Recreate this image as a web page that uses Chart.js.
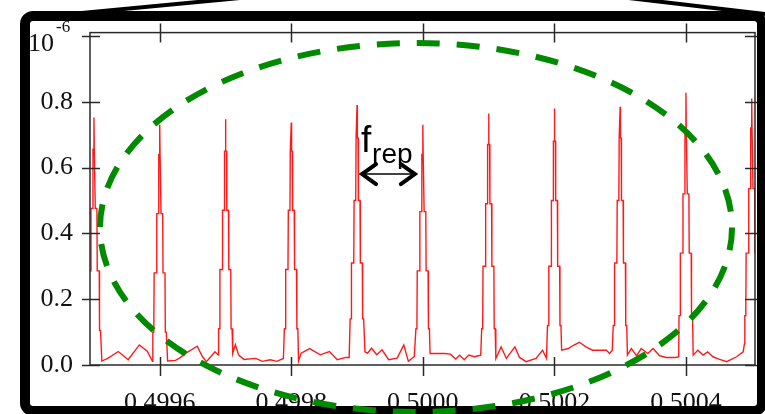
<!DOCTYPE html>
<html>
<head>
<meta charset="utf-8">
<script src="https://cdn.jsdelivr.net/npm/chart.js@4.4.1/dist/chart.umd.min.js"></script>
<style>
  html, body { margin: 0; padding: 0; background: #fff; }
  canvas { display: block; }
</style>
</head>
<body>
<canvas id="combChart" width="765" height="414"></canvas>
<script>
// frequency axis values (one line per peak, then the floor between peaks)
const freq = [
  0.499488,
  0.4994895, 0.499491, 0.4994915, 0.499495, 0.4994955, 0.499498, 0.4994985, 0.4994995, 0.4995, 0.4995005, 0.4995015, 0.499502, 0.4995045, 0.499505, 0.499508, 0.4995085, 0.49951,
  0.499512, 0.499521, 0.499537, 0.499552, 0.499569, 0.499581, 0.499589,
  0.4995895, 0.499591, 0.4995915, 0.499595, 0.4995955, 0.499598, 0.4995985, 0.4995995, 0.4996, 0.4996005, 0.4996015, 0.499602, 0.4996045, 0.499605, 0.499608, 0.4996085, 0.49961,
  0.499612, 0.499624, 0.49963, 0.49964, 0.499657, 0.499665, 0.499671, 0.499684, 0.499689,
  0.4996895, 0.499691, 0.4996915, 0.499695, 0.4996955, 0.499698, 0.4996985, 0.4996995, 0.4997, 0.4997005, 0.4997015, 0.499702, 0.4997045, 0.499705, 0.499708, 0.4997085, 0.49971,
  0.499711, 0.499715, 0.49972, 0.499728, 0.499746, 0.499756, 0.499768, 0.499778, 0.499788,
  0.4997895, 0.499791, 0.4997915, 0.499795, 0.4997955, 0.499798, 0.4997985, 0.4997995, 0.4998, 0.4998005, 0.4998015, 0.499802, 0.4998045, 0.499805, 0.499808, 0.4998085, 0.49981,
  0.499811, 0.499815, 0.499828, 0.499844, 0.499858, 0.49987, 0.499883, 0.499888,
  0.4998895, 0.499891, 0.4998915, 0.499895, 0.4998955, 0.499898, 0.4998985, 0.4998995, 0.4999, 0.4999005, 0.4999015, 0.499902, 0.4999045, 0.499905, 0.499908, 0.4999085, 0.49991,
  0.499912, 0.499916, 0.499922, 0.49993, 0.499938, 0.499948, 0.499961, 0.499971, 0.499978, 0.499987,
  0.4999895, 0.499991, 0.4999915, 0.499995, 0.4999955, 0.499998, 0.4999985, 0.4999995, 0.5, 0.5000005, 0.5000015, 0.500002, 0.5000045, 0.500005, 0.500008, 0.5000085, 0.50001,
  0.500011, 0.500033, 0.500042, 0.50005, 0.500056, 0.500063, 0.50007, 0.500078, 0.500088,
  0.5000895, 0.500091, 0.5000915, 0.500095, 0.5000955, 0.500098, 0.5000985, 0.5000995, 0.5001, 0.5001005, 0.5001015, 0.500102, 0.5001045, 0.500105, 0.500108, 0.5001085, 0.50011,
  0.500111, 0.500119, 0.500127, 0.50014, 0.500147, 0.500157, 0.500172, 0.500182, 0.500188,
  0.5001895, 0.500191, 0.5001915, 0.500195, 0.5001955, 0.500198, 0.5001985, 0.5001995, 0.5002, 0.5002005, 0.5002015, 0.500202, 0.5002045, 0.500205, 0.500208, 0.5002085, 0.50021,
  0.500211, 0.500221, 0.500229, 0.500238, 0.500248, 0.500258, 0.500279, 0.500284, 0.500288,
  0.5002895, 0.500291, 0.5002915, 0.500295, 0.5002955, 0.500298, 0.5002985, 0.5002995, 0.5003, 0.5003005, 0.5003015, 0.500302, 0.5003045, 0.500305, 0.500308, 0.5003085, 0.50031,
  0.500311, 0.500317, 0.500325, 0.500332, 0.500342, 0.50035, 0.50036, 0.50037, 0.500385, 0.500389,
  0.5003895, 0.500391, 0.5003915, 0.500395, 0.5003955, 0.500398, 0.5003985, 0.5003995, 0.5004, 0.5004005, 0.5004015, 0.500402, 0.5004045, 0.500405, 0.500408, 0.5004085, 0.50041,
  0.500411, 0.500418, 0.500426, 0.500433, 0.500441, 0.50045, 0.500462, 0.500477, 0.500487, 0.500489,
  0.5004895, 0.500491, 0.5004915, 0.500495, 0.5004955, 0.500498, 0.5004985, 0.5004995, 0.5005, 0.5005005, 0.5005015, 0.500502, 0.5005045, 0.500505, 0.500508, 0.5005085, 0.50051
];

// spectral power, units of 1e-6 (same layout as freq)
const power = [
  0.02,
  0.105, 0.105, 0.286, 0.286, 0.476, 0.476, 0.656, 0.656, 0.752, 0.656, 0.656, 0.476, 0.476, 0.286, 0.286, 0.105, 0.105,
  0.012, 0.02, 0.041, 0.016, 0.061, 0.042, 0.011,
  0.10, 0.10, 0.28, 0.28, 0.46, 0.46, 0.64, 0.64, 0.73, 0.64, 0.64, 0.46, 0.46, 0.28, 0.28, 0.10, 0.10,
  0.012, 0.014, 0.021, 0.036, 0.057, 0.025, 0.01, 0.04, 0.03,
  0.11, 0.11, 0.29, 0.29, 0.47, 0.47, 0.65, 0.65, 0.747, 0.65, 0.65, 0.47, 0.47, 0.29, 0.29, 0.11, 0.11,
  0.035, 0.062, 0.03, 0.017, 0.02, 0.011, 0.016, 0.011, 0.02,
  0.11, 0.11, 0.29, 0.29, 0.47, 0.47, 0.65, 0.65, 0.737, 0.65, 0.65, 0.47, 0.47, 0.29, 0.29, 0.11, 0.11,
  0.012, 0.036, 0.05, 0.031, 0.041, 0.016, 0.023, 0.023,
  0.14, 0.14, 0.31, 0.31, 0.50, 0.50, 0.69, 0.69, 0.79, 0.69, 0.69, 0.50, 0.50, 0.31, 0.31, 0.14, 0.14,
  0.04, 0.036, 0.051, 0.031, 0.046, 0.016, 0.021, 0.061, 0.011, 0.026,
  0.11, 0.11, 0.286, 0.286, 0.466, 0.466, 0.64, 0.64, 0.73, 0.64, 0.64, 0.466, 0.466, 0.286, 0.286, 0.11, 0.11,
  0.035, 0.035, 0.033, 0.018, 0.03, 0.016, 0.03, 0.025, 0.03,
  0.11, 0.11, 0.30, 0.30, 0.49, 0.49, 0.67, 0.67, 0.764, 0.67, 0.67, 0.49, 0.49, 0.30, 0.30, 0.11, 0.11,
  0.02, 0.055, 0.02, 0.055, 0.023, 0.01, 0.02, 0.045, 0.02,
  0.12, 0.12, 0.30, 0.30, 0.50, 0.50, 0.68, 0.68, 0.779, 0.68, 0.68, 0.50, 0.50, 0.30, 0.30, 0.12, 0.12,
  0.045, 0.05, 0.06, 0.069, 0.055, 0.045, 0.045, 0.035, 0.045,
  0.12, 0.12, 0.31, 0.31, 0.50, 0.50, 0.69, 0.69, 0.785, 0.69, 0.69, 0.50, 0.50, 0.31, 0.31, 0.12, 0.12,
  0.03, 0.05, 0.028, 0.05, 0.035, 0.05, 0.028, 0.023, 0.023, 0.025,
  0.15, 0.15, 0.34, 0.34, 0.52, 0.52, 0.72, 0.72, 0.827, 0.72, 0.72, 0.52, 0.52, 0.34, 0.34, 0.15, 0.15,
  0.03, 0.045, 0.03, 0.04, 0.025, 0.018, 0.01, 0.025, 0.04, 0.065,
  0.15, 0.15, 0.34, 0.34, 0.536, 0.536, 0.72, 0.72, 0.81, 0.72, 0.72, 0.536, 0.536, 0.34, 0.34, 0.15, 0.15
];

const xTicks = [0.4996, 0.4998, 0.5000, 0.5002, 0.5004];
const yTicks = [0, 0.2, 0.4, 0.6, 0.8, 1.0];

const labelFont = { family: 'Liberation Serif', size: 26 };
const axisColor = '#2a2a2a';

// axes box, crossing ticks, exponent, f_rep arrow, black frame, green ellipse
const overlay = {
  id: 'overlay',
  afterDraw(chart) {
    const ctx = chart.ctx;
    const a = chart.chartArea;
    const xs = chart.scales.x;
    const ys = chart.scales.y;
    ctx.save();

    ctx.strokeStyle = axisColor;
    ctx.lineWidth = 1.5;
    ctx.strokeRect(a.left, a.top, a.right - a.left, a.bottom - a.top);
    ctx.beginPath();
    xTicks.forEach(v => {
      const px = Math.round(xs.getPixelForValue(v)) + 0.5;
      ctx.moveTo(px, a.bottom - 8); ctx.lineTo(px, a.bottom + 11);
      ctx.moveTo(px, a.top - 9); ctx.lineTo(px, a.top + 10);
    });
    yTicks.forEach(v => {
      const py = Math.round(ys.getPixelForValue(v)) + 0.5;
      ctx.moveTo(a.left - 8, py); ctx.lineTo(a.left + 10, py);
      ctx.moveTo(a.right - 10, py); ctx.lineTo(a.right + 8, py);
    });
    ctx.stroke();

    // 10^-6 exponent at the top of the y axis
    ctx.fillStyle = '#111';
    ctx.textBaseline = 'alphabetic';
    ctx.textAlign = 'right';
    ctx.font = '26px "Liberation Serif"';
    const topY = ys.getPixelForValue(1.0);
    ctx.fillText('10', 54, topY + 15);
    ctx.textAlign = 'left';
    ctx.font = '17px "Liberation Serif"';
    ctx.fillText('-6', 56, topY - 4);

    // f_rep label and double arrow between two teeth
    const x0 = xs.getPixelForValue(0.4999);
    const x1 = xs.getPixelForValue(0.5000);
    ctx.fillStyle = '#000';
    ctx.font = '37px "Liberation Sans"';
    ctx.fillText('f', x0 + 4, ys.getPixelForValue(0.647));
    ctx.font = '28px "Liberation Sans"';
    ctx.fillText('rep', x0 + 15, ys.getPixelForValue(0.613));
    const ay = ys.getPixelForValue(0.58);
    const l = x0 + 3, r = x1 - 6;
    ctx.strokeStyle = '#000';
    ctx.lineWidth = 1.5;
    ctx.beginPath();
    ctx.moveTo(l + 2, ay); ctx.lineTo(r - 2, ay);
    ctx.stroke();
    ctx.lineWidth = 4;
    ctx.lineCap = 'round';
    ctx.beginPath();
    ctx.moveTo(l + 16, ay - 10); ctx.lineTo(l + 2, ay); ctx.lineTo(l + 16, ay + 10);
    ctx.moveTo(r - 16, ay - 10); ctx.lineTo(r - 2, ay); ctx.lineTo(r - 16, ay + 10);
    ctx.stroke();
    ctx.lineCap = 'butt';

    // black zoom frame and callout lines
    ctx.strokeStyle = '#000';
    ctx.lineWidth = 10;
    ctx.lineJoin = 'round';
    ctx.beginPath();
    ctx.roundRect(25, 16, 737, 395, 8);
    ctx.stroke();
    ctx.lineWidth = 4;
    ctx.beginPath();
    ctx.moveTo(50, 16); ctx.lineTo(240, -2);
    ctx.moveTo(620, -3); ctx.lineTo(765, 14);
    ctx.stroke();

    // green dashed ellipse
    ctx.strokeStyle = '#008a00';
    ctx.lineWidth = 6;
    ctx.setLineDash([23, 17]);
    ctx.beginPath();
    ctx.ellipse(416, 227.5, 316, 184.5, 0, 0, Math.PI * 2);
    ctx.stroke();
    ctx.restore();
  }
};

const combChart = new Chart(document.getElementById('combChart'), {
  type: 'line',
  data: {
    datasets: [{
      label: 'power',
      data: freq.map((f, i) => ({ x: f, y: power[i] })),
      borderColor: '#ff1a1a',
      borderWidth: 1.4,
      pointRadius: 0,
      tension: 0,
      fill: false
    }]
  },
  options: {
    responsive: false,
    animation: false,
    devicePixelRatio: 1,
    layout: { padding: { top: 29, right: 10, left: 0, bottom: 0 } },
    plugins: { legend: { display: false }, tooltip: { enabled: false } },
    scales: {
      x: {
        type: 'linear',
        min: 0.499494,
        max: 0.500505,
        grid: { display: false, drawTicks: false },
        border: { display: false },
        afterBuildTicks: s => { s.ticks = xTicks.map(v => ({ value: v })); },
        afterFit: s => { s.height = 49; },
        ticks: {
          autoSkip: false,
          maxRotation: 0,
          padding: 23,
          color: '#111',
          font: labelFont,
          callback: v => v.toFixed(4)
        }
      },
      y: {
        min: 0,
        max: 1.01,
        grid: { display: false, drawTicks: false },
        border: { display: false },
        afterBuildTicks: s => { s.ticks = yTicks.map(v => ({ value: v })); },
        afterFit: s => { s.width = 90; },
        ticks: {
          padding: 17,
          color: '#111',
          font: labelFont,
          callback: v => (v === 1 ? '' : v.toFixed(1))
        }
      }
    }
  },
  plugins: [overlay]
});
</script>
</body>
</html>
